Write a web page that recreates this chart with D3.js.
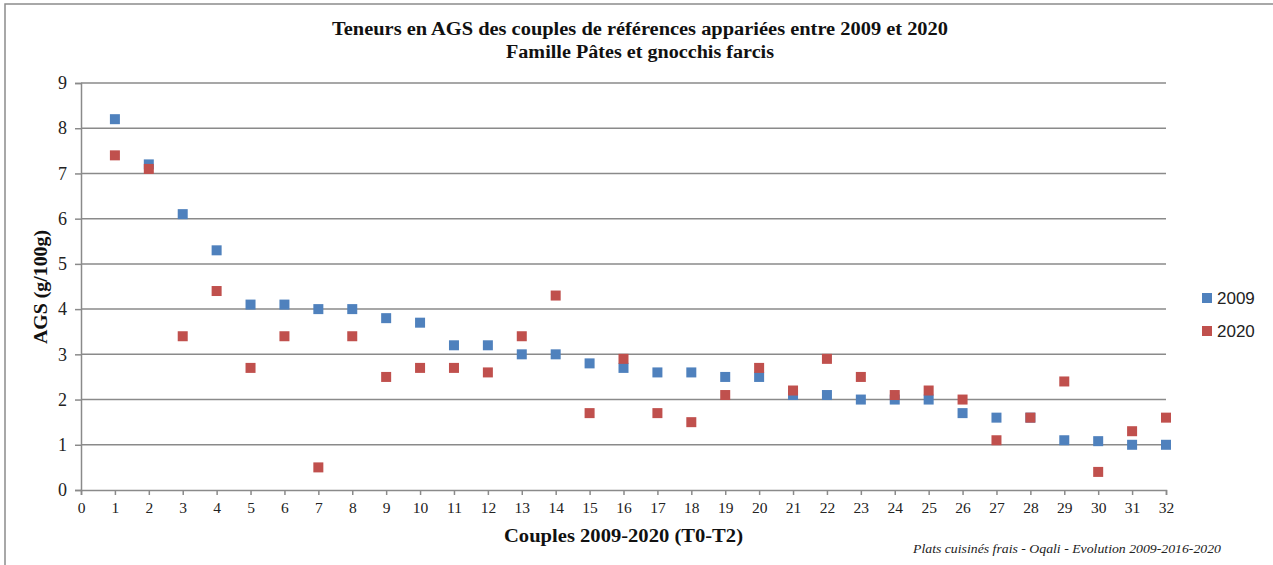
<!DOCTYPE html>
<html><head><meta charset="utf-8">
<script src="https://cdn.jsdelivr.net/npm/d3@7"></script>
<style>body{margin:0;background:#fff}svg{display:block}</style>
</head><body>
<script>
const couples = d3.range(1, 33);
const values2009 = [8.2,7.2,6.1,5.3,4.1,4.1,4.0,4.0,3.8,3.7,3.2,3.2,3.0,3.0,2.8,2.7,2.6,2.6,2.5,2.5,2.1,2.1,2.0,2.0,2.0,1.7,1.6,1.6,1.1,1.08,1.0,1.0];
const values2020 = [7.4,7.1,3.4,4.4,2.7,3.4,0.5,3.4,2.5,2.7,2.7,2.6,3.4,4.3,1.7,2.9,1.7,1.5,2.1,2.7,2.2,2.9,2.5,2.1,2.2,2.0,1.1,1.6,2.4,0.4,1.3,1.6];
const seriesNames = ["2009","2020"];
const colors = ["#4F81BD","#C0504D"];
const xTicks = d3.range(0, 33);
const yTicks = d3.range(0, 10);
const title1 = "Teneurs en AGS des couples de références appariées entre 2009 et 2020";
const title2 = "Famille Pâtes et gnocchis farcis";
const xTitle = "Couples 2009-2020 (T0-T2)";
const yTitle = "AGS  (g/100g)";
const footer = "Plats cuisinés frais - Oqali - Evolution 2009-2016-2020";

const W = 1273, H = 565;
const svg = d3.select("body").append("svg").attr("width", W).attr("height", H);
svg.append("rect").attr("x",5).attr("y",4).attr("width",W).attr("height",H)
  .attr("fill","#fff").attr("stroke","#8c8c8c").attr("stroke-width",1.5);

const x = d3.scaleLinear().domain([0,32]).range([81,1166]);
const y = d3.scaleLinear().domain([0,9]).range([490,83]);
const serif = "'Liberation Serif', 'DejaVu Serif', serif";

// gridlines
svg.append("g").selectAll("line").data(yTicks.filter(d=>d>0)).join("line")
  .attr("x1",x(0)).attr("x2",x(32)).attr("y1",d=>y(d)).attr("y2",d=>y(d))
  .attr("stroke","#8a8a8a").attr("stroke-width",1.5);

// y axis
const yAxis = svg.append("g").attr("transform",`translate(${x(0)},0)`)
  .call(d3.axisLeft(y).tickValues(yTicks).tickSize(6).tickPadding(8).tickFormat(d3.format("d")));
yAxis.select(".domain").attr("stroke","#8a8a8a").attr("stroke-width",1.5);
yAxis.selectAll(".tick line").attr("stroke","#8a8a8a").attr("stroke-width",1.5);
yAxis.selectAll("text").attr("font-family",serif).attr("font-size",18).attr("fill","#222");

// x axis
const xAxis = svg.append("g").attr("transform",`translate(0,${y(0)})`)
  .call(d3.axisBottom(x).tickValues(xTicks).tickSize(5).tickPadding(7).tickFormat(d3.format("d")));
xAxis.select(".domain").attr("stroke","#8a8a8a").attr("stroke-width",1.5);
xAxis.selectAll(".tick line").attr("stroke","#8a8a8a").attr("stroke-width",1.5);
xAxis.selectAll("text").attr("font-family",serif).attr("font-size",15.5).attr("fill","#222");

// points
const series = [values2009, values2020];
const s = 10;
series.forEach((vals,i)=>{
  svg.append("g").selectAll("rect").data(vals).join("rect")
    .attr("x",(d,j)=>x(couples[j])-s/2).attr("y",d=>y(d)-s/2)
    .attr("width",s).attr("height",s).attr("fill",colors[i]);
});

// titles
svg.append("text").attr("x",640).attr("y",35).attr("text-anchor","middle")
  .attr("font-family",serif).attr("font-weight","bold").attr("font-size",18.5).attr("fill","#111")
  .attr("textLength",616).attr("lengthAdjust","spacingAndGlyphs").text(title1);
svg.append("text").attr("x",640).attr("y",58).attr("text-anchor","middle")
  .attr("font-family",serif).attr("font-weight","bold").attr("font-size",18.5).attr("fill","#111")
  .attr("textLength",268).attr("lengthAdjust","spacingAndGlyphs").text(title2);
svg.append("text").attr("x",623.5).attr("y",542).attr("text-anchor","middle")
  .attr("font-family",serif).attr("font-weight","bold").attr("font-size",19).attr("fill","#111")
  .attr("textLength",239).attr("lengthAdjust","spacingAndGlyphs").text(xTitle);
svg.append("text").attr("transform","translate(47,287) rotate(-90)").attr("text-anchor","middle")
  .attr("font-family",serif).attr("font-weight","bold").attr("font-size",18.5).attr("fill","#111")
  .attr("textLength",114).attr("lengthAdjust","spacingAndGlyphs").text(yTitle);
svg.append("text").attr("x",1221).attr("y",553).attr("text-anchor","end")
  .attr("font-family",serif).attr("font-style","italic").attr("font-size",13).attr("fill","#222")
  .attr("textLength",308).attr("lengthAdjust","spacingAndGlyphs").text(footer);

// legend
seriesNames.forEach((n,i)=>{
  const ly = 298 + i*33;
  svg.append("rect").attr("x",1202).attr("y",ly-5).attr("width",10).attr("height",10).attr("fill",colors[i]);
  svg.append("text").attr("x",1217).attr("y",ly+6).attr("font-family","'Liberation Sans', Arial, sans-serif")
    .attr("font-size",17).attr("fill","#222").text(n);
});
</script>
</body></html>
